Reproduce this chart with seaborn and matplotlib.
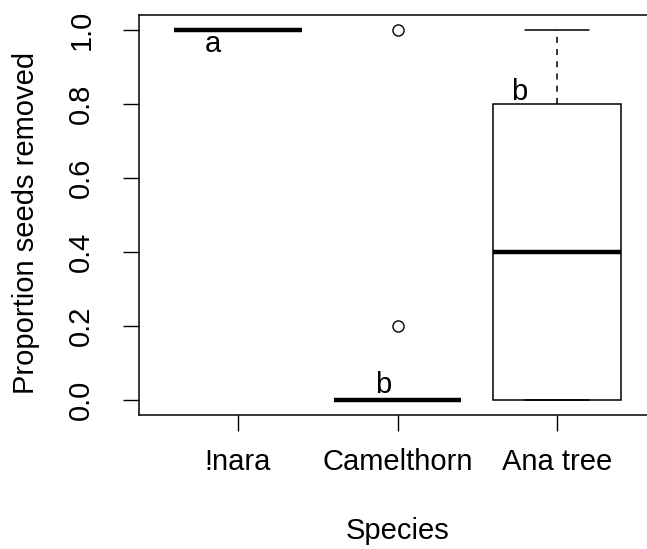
import numpy as np
import pandas as pd
import matplotlib
matplotlib.use("Agg")
import matplotlib.pyplot as plt
import seaborn as sns

# ---- data ----
species = ["!nara", "Camelthorn", "Ana tree"]
inara_vals = [1.0, 1.0, 1.0, 1.0, 1.0]
camelthorn_vals = [0.0, 0.0, 0.0, 0.0, 0.0, 0.0, 0.0, 0.2, 1.0]
ana_vals = [0.0, 0.0, 0.4, 0.8, 1.0]
y_ticks = [0.0, 0.2, 0.4, 0.6, 0.8, 1.0]
letters = ["a", "b", "b"]
letter_x = [-0.156, 0.9125, 1.7625]
letter_y = [0.9405, 0.019, 0.811]

df = pd.DataFrame({
    "Species": (["!nara"] * len(inara_vals) + ["Camelthorn"] * len(camelthorn_vals)
                + ["Ana tree"] * len(ana_vals)),
    "prop": inara_vals + camelthorn_vals + ana_vals,
})

sns.set_style("ticks")
plt.rcParams["font.family"] = ["Liberation Sans", "DejaVu Sans"]
plt.rcParams["text.color"] = "black"
plt.rcParams["axes.labelcolor"] = "black"
FS = 21

fig = plt.figure(figsize=(6.47, 5.49), dpi=100)
ax = fig.add_axes([139 / 647, 134 / 549, 517 / 647, 400 / 549])

sns.boxplot(
    data=df, x="Species", y="prop", order=species, ax=ax,
    color="white", saturation=1, linecolor="black", linewidth=1.1,
    width=0.8, whis=1.5, fliersize=8,
    medianprops=dict(linewidth=3.2, color="black", solid_capstyle="butt"),
    whiskerprops=dict(linestyle=(0, (4, 4)), color="black"),
    flierprops=dict(marker="o", markerfacecolor="none",
                    markeredgecolor="black", markeredgewidth=1.0),
)

for t, x, y in zip(letters, letter_x, letter_y):
    ax.text(x, y, t, ha="center", va="baseline", fontsize=FS, color="black")

ax.set_xlim(-0.62, 2.62)
ax.set_ylim(-0.04, 1.04)
ax.set_yticks(y_ticks)
ax.set_yticklabels([f"{v:.1f}" for v in y_ticks], rotation=90, va="center")
ax.tick_params(axis="both", direction="out", length=11.5, width=1.0,
               labelsize=FS, colors="black")
ax.tick_params(axis="y", pad=20)
ax.tick_params(axis="x", pad=12)

for s in ax.spines.values():
    s.set_visible(True)
    s.set_linewidth(1.1)
    s.set_color("black")

ax.set_xlabel("Species", fontsize=FS, va="center", color="black")
ax.xaxis.set_label_coords(0.5, -0.29)
ax.set_ylabel("Proportion seeds removed", fontsize=FS, va="center", color="black")
ax.yaxis.set_label_coords(-0.218, 0.48)

fig.savefig("out.png", dpi=100)
